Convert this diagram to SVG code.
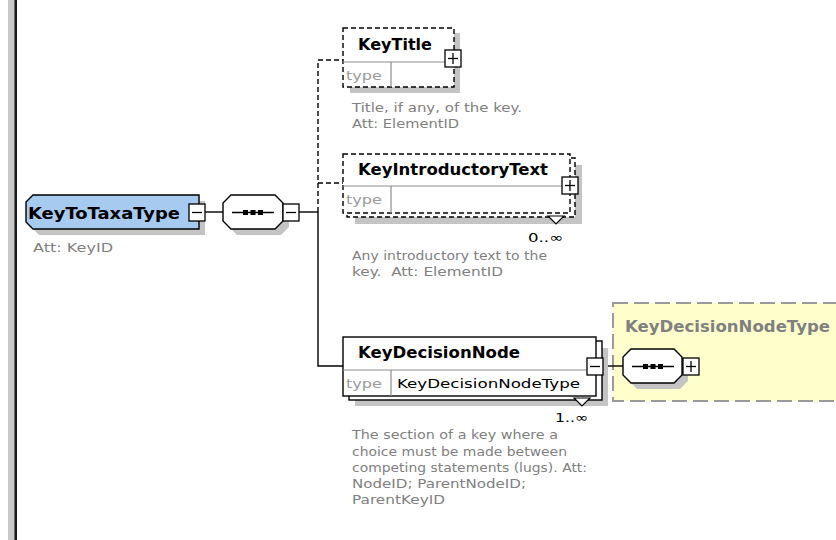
<svg xmlns="http://www.w3.org/2000/svg" width="836" height="540" viewBox="0 0 836 540">
<style>
.bg{fill:#ffffff}
.shadow{fill:#c4c4c4}
.box{fill:#ffffff;stroke:#000;stroke-width:1.4}
.dbox{fill:#ffffff;stroke:#000;stroke-width:1.4;stroke-dasharray:5,3}
.div{stroke:#8c8c8c;stroke-width:1.2;fill:none}
.pm{fill:#ffffff;stroke:#000;stroke-width:1.3}
.sign{stroke:#000;stroke-width:1.3;fill:none}
.conn{stroke:#000;stroke-width:1.4;fill:none}
.dconn{stroke:#000;stroke-width:1.4;fill:none;stroke-dasharray:5,3}
.title{font-family:"DejaVu Sans",Verdana,sans-serif;font-weight:bold;font-size:16px;fill:#000}
.type{font-family:"DejaVu Sans",Tahoma,sans-serif;font-size:13px;fill:#9a9a9a}
.val{font-family:"DejaVu Sans",Tahoma,sans-serif;font-size:13px;fill:#000}
.desc{font-family:"DejaVu Sans",Tahoma,sans-serif;font-size:12.5px;fill:#808080}
.occ{font-family:"DejaVu Sans",Tahoma,sans-serif;font-size:13px;fill:#000}
.dot{fill:#000}
</style>
<rect class="bg" x="0" y="0" width="836" height="540"/>
<!-- left border -->
<rect x="8" y="0" width="6" height="540" fill="#c8c8c8"/>
<rect x="14" y="0" width="1" height="540" fill="#6a6a6a"/>
<rect x="15" y="0" width="2" height="540" fill="#1a1a1a"/>

<g id="KeyDecisionNodeType">
<rect x="613" y="303" width="240" height="98" fill="#ffffcc" stroke="#9a9a9a" stroke-width="2" stroke-dasharray="15,6"/>
<text x="625" y="332" class="title" style="fill:#808080" textLength="205" lengthAdjust="spacingAndGlyphs">KeyDecisionNodeType</text>
</g>

<g id="connectors">
<line class="conn" x1="205" y1="212" x2="223" y2="212"/>
<line class="conn" x1="299" y1="212" x2="318" y2="212"/>
<polyline class="dconn" points="318,212 318,60 343,60"/>
<line class="dconn" x1="318" y1="183" x2="343" y2="183"/>
<polyline class="conn" points="318,212 318,366 343,366"/>
<line class="conn" x1="604" y1="366" x2="623" y2="366"/>
</g>

<g id="KeyToTaxaType">
<polygon class="shadow" points="39,201 205,201 205,235 39,235 32,228 32,208"/>
<polygon points="33,195 199,195 199,229 33,229 26,222 26,202" fill="#a6caf0" stroke="#000" stroke-width="1.4"/>
<text x="28" y="219" class="title" textLength="152" lengthAdjust="spacingAndGlyphs">KeyToTaxaType</text>
<rect class="pm" x="189" y="204" width="16" height="17"/>
<line class="sign" x1="192" y1="212.5" x2="202" y2="212.5"/>
<text x="33" y="252" class="desc" textLength="80" lengthAdjust="spacingAndGlyphs">Att: KeyID</text>
</g>

<g id="sequence1">
<polygon class="shadow" points="237,201 281,201 289,209 289,227 281,235 237,235 229,227 229,209"/>
<polygon class="box" points="231,195 275,195 283,203 283,221 275,229 231,229 223,221 223,203"/>
<line class="sign" x1="232" y1="212.5" x2="274" y2="212.5"/>
<rect class="dot" x="243" y="210" width="5" height="5"/>
<rect class="dot" x="250.5" y="210" width="5" height="5"/>
<rect class="dot" x="258" y="210" width="5" height="5"/>
<rect class="pm" x="283" y="204" width="16" height="17"/>
<line class="sign" x1="286" y1="212.5" x2="296" y2="212.5"/>
</g>

<g id="KeyTitle">
<rect class="shadow" x="350" y="33" width="110" height="60"/>
<rect class="dbox" x="343" y="28" width="111" height="59"/>
<line class="div" x1="343" y1="62" x2="445" y2="62"/>
<line class="div" x1="391" y1="62" x2="391" y2="87"/>
<text x="358" y="50" class="title" textLength="74" lengthAdjust="spacingAndGlyphs">KeyTitle</text>
<text x="346" y="80" class="type" textLength="36" lengthAdjust="spacingAndGlyphs">type</text>
<rect class="pm" x="445" y="50" width="16" height="17"/>
<line class="sign" x1="448" y1="58.5" x2="458" y2="58.5"/>
<line class="sign" x1="453" y1="53" x2="453" y2="64"/>
<text x="352" y="112" class="desc" textLength="170" lengthAdjust="spacingAndGlyphs">Title, if any, of the key.</text>
<text x="352" y="128" class="desc" textLength="107" lengthAdjust="spacingAndGlyphs">Att: ElementID</text>
</g>

<g id="KeyIntroductoryText">
<rect class="shadow" x="355" y="165" width="227" height="59"/>
<rect class="dbox" x="347" y="158" width="228" height="59"/>
<rect class="dbox" x="343" y="154" width="227" height="59"/>
<line class="div" x1="343" y1="186" x2="562" y2="186"/>
<line class="div" x1="391" y1="186" x2="391" y2="213"/>
<text x="358" y="175" class="title" textLength="190" lengthAdjust="spacingAndGlyphs">KeyIntroductoryText</text>
<text x="346" y="204" class="type" textLength="36" lengthAdjust="spacingAndGlyphs">type</text>
<rect class="pm" x="562" y="177" width="16" height="17"/>
<line class="sign" x1="565" y1="185.5" x2="575" y2="185.5"/>
<line class="sign" x1="570" y1="180" x2="570" y2="191"/>
<polygon points="548,216 564,216 556,224" fill="#fff" stroke="#000" stroke-width="1.2"/>
<text x="528" y="242" class="occ" textLength="35" lengthAdjust="spacingAndGlyphs">0..∞</text>
<text x="352" y="260" class="desc" textLength="195" lengthAdjust="spacingAndGlyphs">Any introductory text to the</text>
<text x="352" y="276" class="desc" xml:space="preserve" textLength="151" lengthAdjust="spacingAndGlyphs">key.  Att: ElementID</text>
</g>

<g id="KeyDecisionNode">
<rect class="shadow" x="355" y="348" width="253" height="58"/>
<rect class="box" x="349" y="341" width="253" height="59"/>
<rect class="box" x="343" y="337" width="253" height="59"/>
<line class="div" x1="343" y1="370" x2="587" y2="370"/>
<line class="div" x1="391" y1="370" x2="391" y2="396"/>
<text x="358" y="358" class="title" textLength="162" lengthAdjust="spacingAndGlyphs">KeyDecisionNode</text>
<text x="346" y="388" class="type" textLength="36" lengthAdjust="spacingAndGlyphs">type</text>
<text x="397" y="388" class="val" textLength="183" lengthAdjust="spacingAndGlyphs">KeyDecisionNodeType</text>
<rect class="pm" x="587" y="358" width="16" height="17"/>
<line class="sign" x1="590" y1="366.5" x2="600" y2="366.5"/>
<polygon points="574,398 590,398 582,406" fill="#fff" stroke="#000" stroke-width="1.2"/>
<text x="555" y="422" class="occ" textLength="33" lengthAdjust="spacingAndGlyphs">1..∞</text>
<text x="352" y="439" class="desc" textLength="206" lengthAdjust="spacingAndGlyphs">The section of a key where a</text>
<text x="352" y="455.5" class="desc" textLength="215" lengthAdjust="spacingAndGlyphs">choice must be made between</text>
<text x="352" y="471.5" class="desc" textLength="235" lengthAdjust="spacingAndGlyphs">competing statements (lugs). Att:</text>
<text x="352" y="487.5" class="desc" textLength="174" lengthAdjust="spacingAndGlyphs">NodeID; ParentNodeID;</text>
<text x="352" y="504" class="desc" textLength="93" lengthAdjust="spacingAndGlyphs">ParentKeyID</text>
</g>

<g id="sequence2">
<polygon class="shadow" points="637,355 680,355 688,363 688,381 680,389 637,389 629,381 629,363"/>
<polygon class="box" points="631,349 674,349 682,357 682,375 674,383 631,383 623,375 623,357"/>
<line class="sign" x1="632" y1="366.5" x2="674" y2="366.5"/>
<rect class="dot" x="643" y="364" width="5" height="5"/>
<rect class="dot" x="650.5" y="364" width="5" height="5"/>
<rect class="dot" x="658" y="364" width="5" height="5"/>
<rect class="pm" x="683" y="358" width="16" height="17"/>
<line class="sign" x1="686" y1="366.5" x2="696" y2="366.5"/>
<line class="sign" x1="691" y1="361" x2="691" y2="372"/>
</g>
</svg>
